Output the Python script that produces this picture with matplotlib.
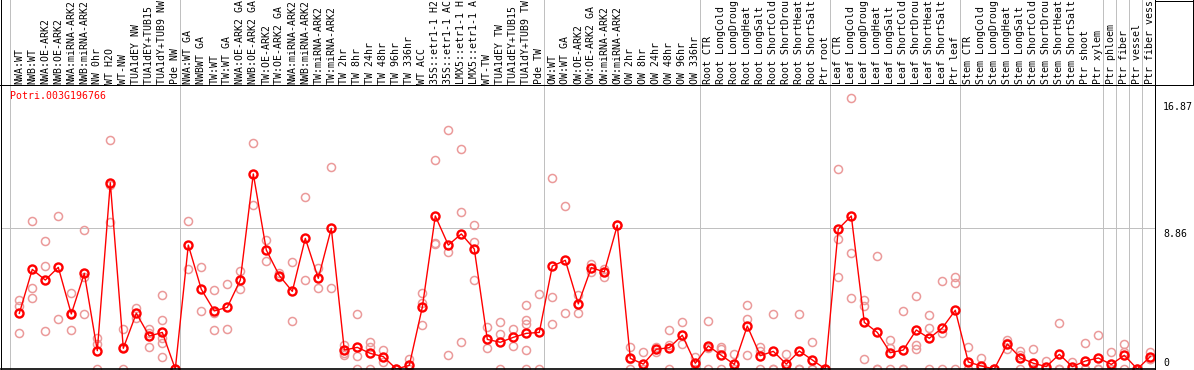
import matplotlib
matplotlib.use("Agg")
import matplotlib.pyplot as plt
from matplotlib.lines import Line2D

# --- data ---
gene = "Potri.003G196766"

labels = [
    "NWA:WT", "NWB:WT", "NWA:OE-ARK2", "NWB:OE-ARK2", "NWA:miRNA-ARK2", "NWB:miRNA-ARK2",
    "NW 0hr", "WT H2O", "WT-NW", "TUA1dEY NW", "TUA1dEY+TUB15 NW", "TUA1dY+TUB9 NW", "Pde NW",
    "NWA:WT GA", "NWBWT GA", "TW:WT", "TW:WT GA", "NWA:OE-ARK2 GA", "NWB:OE-ARK2 GA",
    "TW:OE-ARK2", "TW:OE-ARK2 GA", "NWA:miRNA-ARK2", "NWB:miRNA-ARK2", "TW:miRNA-ARK2",
    "TW:miRNA-ARK2", "TW 2hr", "TW 8hr", "TW 24hr", "TW 48hr", "TW 96hr", "TW 336hr", "WT ACC",
    "35S::etr1-1 H2O", "35S::etr1-1 ACC", "LMX5::etr1-1 H2O", "LMX5::etr1-1 ACC", "WT-TW",
    "TUA1dEY TW", "TUA1dEY+TUB15 TW", "TUA1dY+TUB9 TW", "Pde TW",
    "OW:WT", "OW:WT GA", "OW:OE-ARK2", "OW:OE-ARK2 GA", "OW:miRNA-ARK2", "OW:miRNA-ARK2",
    "OW 2hr", "OW 8hr", "OW 24hr", "OW 48hr", "OW 96hr", "OW 336hr",
    "Root CTR", "Root LongCold", "Root LongDrought", "Root LongHeat", "Root LongSalt",
    "Root ShortCold", "Root ShortDrought", "Root ShortHeat", "Root ShortSalt", "Ptr root",
    "Leaf CTR", "Leaf LongCold", "Leaf LongDrought", "Leaf LongHeat", "Leaf LongSalt",
    "Leaf ShortCold", "Leaf ShortDrought", "Leaf ShortHeat", "Leaf ShortSalt", "Ptr leaf",
    "Stem CTR", "Stem LongCold", "Stem LongDrought", "Stem LongHeat", "Stem LongSalt",
    "Stem ShortCold", "Stem ShortDrought", "Stem ShortHeat", "Stem ShortSalt", "Ptr shoot",
    "Ptr xylem", "Ptr phloem", "Ptr fiber", "Ptr vessel", "Ptr fiber vessel",
]

means = [
    3.50, 6.26, 5.59, 6.39, 3.46, 6.01, 1.15, 11.71, 1.30, 3.50, 2.07, 2.30, 0.0,
    7.79, 5.01, 3.65, 3.88, 5.59, 12.26, 7.48, 5.87, 4.88, 8.21, 5.70, 8.84,
    1.19, 1.36, 0.98, 0.78, 0.0, 0.23, 3.88, 9.62, 7.79, 8.49, 7.54, 1.86, 1.68, 1.99, 2.24, 2.30,
    6.47, 6.83, 4.09, 6.37, 6.10, 9.03, 0.67, 0.31, 1.24, 1.34, 2.12, 0.36,
    1.45, 0.86, 0.29, 2.70, 0.84, 1.11, 0.31, 1.13, 0.57, 0.0,
    8.80, 9.62, 2.93, 2.30, 1.03, 1.19, 2.45, 1.93, 2.58, 3.69,
    0.44, 0.19, 0.0, 1.57, 0.71, 0.36, 0.15, 0.92, 0.15, 0.50, 0.69,
    0.29, 0.86, 0.0, 0.78,
]

replicates = [
    [4.34, 3.96, 2.24], [9.30, 5.11, 4.44], [8.02, 6.47, 2.39], [9.62, 3.12],
    [4.76, 3.54, 2.45], [8.74, 5.80, 3.46], [1.93, 1.60, 0.0], [14.39, 11.57, 9.22],
    [2.51, 1.40, 0.0], [3.81, 3.18], [2.51, 2.24, 1.36], [4.65, 3.08, 1.93, 1.61, 0.73],
    [0.0, 0.0],
    [9.30, 6.26], [6.43, 3.65], [4.97, 3.50, 2.45], [5.34, 2.51], [6.14, 5.01],
    [14.18, 10.31], [8.11, 6.77], [6.01, 5.80], [6.73, 3.02], [10.79, 5.57],
    [6.33, 5.07], [12.68, 5.07], [1.51, 0.98, 0.88], [3.46, 0.82, 0.0],
    [1.72, 1.36, 0.0], [1.19, 0.46], [0.0, 0.0], [0.61, 0.0], [4.80, 4.17, 2.77],
    [13.14, 7.90, 7.86], [15.02, 7.37, 0.88], [13.83, 9.85, 1.68], [9.05, 8.00, 5.57],
    [2.62, 1.30], [2.93, 2.20, 0.0], [2.51, 1.47], [4.02, 3.08, 2.80, 1.19, 0.0],
    [4.71, 0.0],
    [11.98, 4.50, 2.83], [10.25, 3.50], [4.65, 3.50], [6.60, 6.10], [6.31, 5.80],
    [9.03, 9.03], [1.36, 0.65, 0.0], [1.05, 0.0, 0.0], [1.40, 1.09], [2.45, 1.51, 0.0],
    [2.95, 1.57], [0.78, 0.30, 0.0],
    [3.02, 1.33, 0.0], [1.40, 1.24, 0.0], [0.92, 0.0, 0.0], [4.02, 3.14, 0.88],
    [1.40, 1.12, 0.0], [3.46, 0.0, 0.0], [0.92, 0.0, 0.0], [3.46, 0.0, 0.0],
    [1.68, 0.0, 0.0], [0.0, 0.0, 0.0],
    [12.57, 8.17, 5.78], [17.01, 7.29, 4.44], [4.34, 3.96, 0.63], [7.10, 0.0, 0.0],
    [1.82, 1.30, 0.0], [3.65, 0.0, 0.0], [4.59, 1.51, 1.24], [3.37, 2.58, 0.0],
    [5.53, 2.24, 0.0], [5.80, 5.38, 0.0],
    [1.38, 0.0, 0.0], [0.71, 0.0, 0.0], [0.0, 0.0, 0.0], [1.82, 1.65, 1.24],
    [1.15, 0.88, 0.0], [1.26, 0.0, 0.0], [0.52, 0.0, 0.0], [2.87, 0.0, 0.0],
    [0.46, 0.0, 0.0], [1.61, 0.0, 0.0], [2.12, 0.0, 0.0],
    [1.07, 0.0, 0.0], [1.57, 1.09, 0.0], [0.0, 0.0, 0.0], [1.07, 0.61, 0.65],
]

ytick_values = [16.87, 8.86, 0]
ytick_labels = ["16.87", "8.86", "0"]

# last column of each sample group (separator drawn right after it)
group_ends = [-1, 12, 40, 52, 62, 72, 83, 84, 85, 86, 87]

# --- layout in pixels ---
W, H = 1194, 370
left_px, right_px = 1, 1155
top_px, bottom_px = 85, 369
x0_px, step_px = 19.3, 13.0
px_per_unit = 15.91
max_chars = 14  # label column is only this tall, longer names get cut like in the original

def fx(px):
    return px / W

def fy(py):
    return 1 - py / H

FONT = "DejaVu Sans Mono"
FS = 7.1
GRID = "#c0c0c0"
LW = 0.72

fig = plt.figure(figsize=(W / 100, H / 100), dpi=100)
ax = fig.add_axes([fx(left_px), fy(bottom_px), fx(right_px) - fx(left_px), fy(top_px) - fy(bottom_px)])
ax.patch.set_visible(False)
for s in ax.spines.values():
    s.set_visible(False)
ax.set_xticks([])
ax.set_yticks([])
ax.set_xlim((left_px - x0_px) / step_px, (right_px - x0_px) / step_px)
ax.set_ylim(0, (bottom_px - top_px) / px_per_unit)

# replicate points
for i, vals in enumerate(replicates):
    ax.plot([i] * len(vals), vals, "o", ms=5.8, mfc="none", mec="#eb9a9a", mew=1.1,
            ls="none", zorder=2, clip_on=True)

# mean profile
xs = list(range(len(means)))
ax.plot(xs, means, "-", color="red", lw=1.0, zorder=3)
ax.plot(xs, means, "o", ms=5.8, mfc="none", mec="red", mew=1.7, zorder=4)

# horizontal grid at middle tick
ax.axhline(8.86, color=GRID, lw=LW, zorder=1)

# vertical group separators across whole figure
for g in group_ends:
    xpx = x0_px + step_px * (g + 0.36)
    if g == -1:
        xpx = 10
    fig.add_artist(Line2D([fx(xpx)] * 2, [0, 1], color=GRID, lw=LW, zorder=-1))

# black frame lines
black = dict(color="black", lw=LW, zorder=5)
fig.add_artist(Line2D([0, 1], [fy(top_px)] * 2, **black))
fig.add_artist(Line2D([fx(left_px)] * 2, [0, 1], **black))
fig.add_artist(Line2D([fx(right_px)] * 2, [0, 1], **black))
fig.add_artist(Line2D([fx(left_px), fx(right_px)], [fy(bottom_px)] * 2, color="black", lw=1.2, zorder=5))
fig.add_artist(Line2D([fx(right_px), 1], [fy(0.5)] * 2, **black))
fig.add_artist(Line2D([fx(1193)] * 2, [fy(top_px), 1], **black))

# column labels
for i, lab in enumerate(labels):
    xpx = x0_px + step_px * i
    fig.text(fx(xpx), fy(84), lab[:max_chars], rotation=90, ha="center", va="bottom",
             family=FONT, fontsize=FS, color="black")

# gene name
fig.text(fx(10), fy(96), gene, ha="left", va="center", family=FONT, fontsize=FS, color="red")

# y value labels
for v, t in zip(ytick_values, ytick_labels):
    ypx = bottom_px - v * px_per_unit
    if v == 0:
        fig.text(fx(1163), fy(ypx - 1), t, ha="left", va="bottom", family=FONT, fontsize=FS)
    else:
        fig.text(fx(1163), fy(ypx + 1), t, ha="left", va="top", family=FONT, fontsize=FS)

fig.savefig("out.png", dpi=100)
